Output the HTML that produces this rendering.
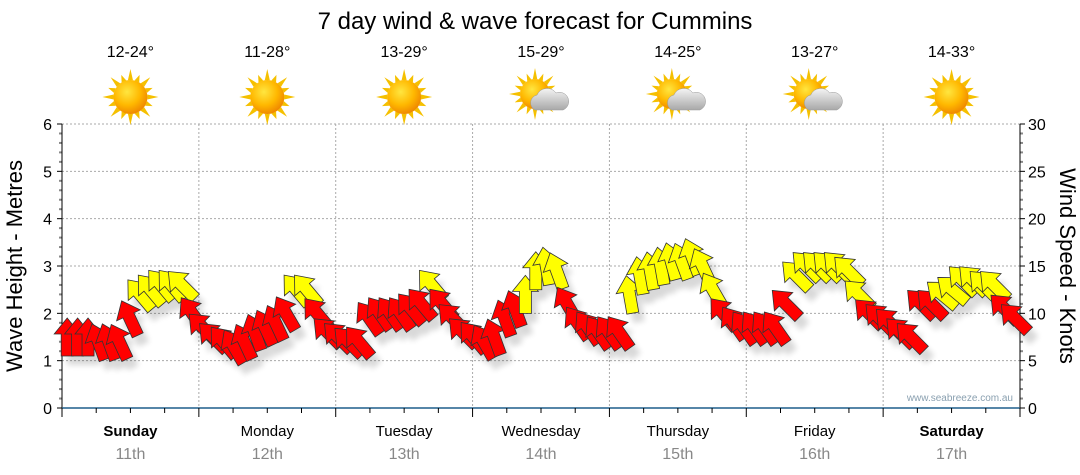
<!DOCTYPE html>
<html><head><meta charset="utf-8"><style>
body{margin:0;background:#fff;}
svg{display:block;font-family:"Liberation Sans",sans-serif;}
</style></head><body>
<svg id="chart" width="1080" height="475" viewBox="0 0 1080 475" xmlns="http://www.w3.org/2000/svg">
<defs>
<radialGradient id="sunG" cx="40%" cy="35%" r="65%"><stop offset="0" stop-color="#ffe640"/><stop offset="0.6" stop-color="#ffb800"/><stop offset="1" stop-color="#f08a00"/></radialGradient>
<linearGradient id="cloudG" x1="0" y1="0" x2="0" y2="1"><stop offset="0" stop-color="#f4f4f4"/><stop offset="1" stop-color="#a8a8a8"/></linearGradient>
<filter id="sh" x="-50%" y="-50%" width="200%" height="200%"><feGaussianBlur stdDeviation="3"/></filter>
</defs>
<text x="535" y="29" font-size="24" text-anchor="middle" fill="#000">7 day wind &amp; wave forecast for Cummins</text>
<g id="grid"></g>
<g id="axes"></g>
<g id="shadows" filter="url(#sh)" opacity="0.15"></g>
<g id="marks"></g>
<g id="icons"></g>
<text transform="translate(22,266) rotate(-90)" font-size="22" text-anchor="middle">Wave Height - Metres</text>
<text transform="translate(1060,266) rotate(90)" font-size="22" text-anchor="middle">Wind Speed - Knots</text>
<text x="1013" y="401" font-size="10" fill="#8aa0b0" text-anchor="end">www.seabreeze.com.au</text>
</svg>
<script>
const days=["Sunday","Monday","Tuesday","Wednesday","Thursday","Friday","Saturday"];
const dates=["11th","12th","13th","14th","15th","16th","17th"];
const temps=["12-24°","11-28°","13-29°","15-29°","14-25°","13-27°","14-33°"];
const cloudy=[false,false,false,true,true,true,false];
const boldDays=[true,false,false,false,false,false,true];
const waveTicks=[0,1,2,3,4,5,6];
const windTicks=[0,5,10,15,20,25,30];
const windSpeed=[
7.5,7.5,7.5,7,7,7,9.5,12,12.5,13,13,13,
10,8.5,7.5,7,6.5,7,8,8.5,9,10,12.5,12.5,
10,8,7.5,7,7,9.5,10,10,10,10.5,11,13,
11,9.5,8,7.5,7,7.5,9.5,10.5,12,14.5,15,14.5,
11,9,8.5,8,8,8,12,14,14.5,15,15.5,15.5,
16,15,12.5,10,9,8.5,8.5,8.5,8.5,11,14,15,
15,15,15,14.5,12,10,9.5,9,8,7.5,11,11,
12,12.5,13.5,13.5,13,13,10.5,9.5];
const windDir=[
0,0,0,-20,-20,-25,-25,-40,-40,-40,-40,-45,
-35,-45,-45,-40,-30,-25,-20,-25,-25,-30,-40,-40,
-40,-45,-45,-45,-40,-35,-35,-35,-35,-40,-40,-40,
-40,-45,-45,-40,-30,-20,-20,-20,0,0,-10,-20,
-30,-35,-35,-35,-35,-35,-10,-10,-10,-10,-15,-20,
-20,-25,-30,-40,-35,-35,-35,-35,-35,-45,-45,-45,
-45,-45,-45,-45,-45,-45,-45,-45,-45,-45,-45,-45,
-50,-50,-45,-45,-45,-45,-45,-45];
const NS="http://www.w3.org/2000/svg";
const X0=62,X1=1020,Y0=408,Y1=124;
const dayW=(X1-X0)/7;
function xDay(d){return X0+d*dayW;}
function xSlot(i){return X0+(i+0.5)*(X1-X0)/windSpeed.length;}
function yWave(m){return Y0-(m/6)*(Y0-Y1);}
function yWind(k){return Y0-(k/30)*(Y0-Y1);}
function el(tag,attrs,parent,txt){const e=document.createElementNS(NS,tag);for(const k in attrs)e.setAttribute(k,attrs[k]);if(txt!==undefined)e.textContent=txt;parent.appendChild(e);return e;}
const grid=document.getElementById('grid'),axes=document.getElementById('axes'),marks=document.getElementById('marks'),shadows=document.getElementById('shadows'),icons=document.getElementById('icons');
waveTicks.forEach(v=>{
 if(v>0){const g=el('line',{x1:X0,x2:X1,y1:yWave(v),y2:yWave(v),stroke:'#aaa','stroke-dasharray':'2,2'},grid);
 
 }
 const t=el('text',{x:52,y:yWave(v)+6,'font-size':16,'text-anchor':'end'},axes,String(v));
 
 
});
windTicks.forEach(v=>{
 const t=el('text',{x:1028,y:yWind(v)+6,'font-size':16,'text-anchor':'start'},axes,String(v));
 
 
});
for(let i=0;i<=30;i++){const y=Y0-i*(Y0-Y1)/30;const major=i%5==0;
 el('line',{x1:X0-(major?5:3),x2:X0,y1:y,y2:y,stroke:major?'#000':'#888','stroke-width':major?1:2},axes);
 el('line',{x1:X1,x2:X1+(major?5:3),y1:y,y2:y,stroke:major?'#000':'#888','stroke-width':major?1:2},axes);}
el('line',{x1:X0,x2:X0,y1:Y1,y2:Y0+8,stroke:'#000'},axes);
el('line',{x1:X1,x2:X1,y1:Y1,y2:Y0+8,stroke:'#000'},axes);
for(let d=1;d<7;d++){const g=el('line',{x1:xDay(d),x2:xDay(d),y1:Y1,y2:Y0,stroke:'#aaa','stroke-dasharray':'2,2'},grid);
 
 }
el('line',{x1:X0,x2:X1,y1:Y0,y2:Y0,stroke:'#1f5f8b','stroke-width':1.5},axes);
for(let q=0;q<=28;q++){const x=X0+q*dayW/4;el('line',{x1:x,x2:x,y1:Y0,y2:Y0+(q%4==0?9:5),stroke:'#000'},axes);}
days.forEach((d,i)=>{const cx=xDay(i)+dayW/2;
 const a=el('text',{x:cx,y:436,'font-size':15,'text-anchor':'middle','font-weight':boldDays[i]?'bold':'normal'},axes,d);
 
 
 const b=el('text',{x:cx,y:459,'font-size':16,'text-anchor':'middle',fill:'#888'},axes,dates[i]);
 
 
 const t=el('text',{x:cx,y:57,'font-size':16,'text-anchor':'middle'},icons,temps[i]);
 
 
 const g=el('g',{transform:`translate(${cx},97)`},icons);
 
 
 const sx=cloudy[i]?-6:0, sy=cloudy[i]?-3:0, r=cloudy[i]?15:17;
 for(let k=0;k<16;k++){const ang=k*Math.PI/8;const L=(k%2?r+7:r+11);
  const p1=[sx+Math.cos(ang-0.15)*r,sy+Math.sin(ang-0.15)*r],p2=[sx+Math.cos(ang)*L,sy+Math.sin(ang)*L],p3=[sx+Math.cos(ang+0.15)*r,sy+Math.sin(ang+0.15)*r];
  el('polygon',{points:`${p1} ${p2} ${p3}`,fill:'#f5c000'},g);}
 el('circle',{cx:sx,cy:sy,r:r,fill:'url(#sunG)'},g);
 if(cloudy[i]){el('path',{d:'M-6,13 a8,8 0 0 1 2,-15 a11,11 0 0 1 19,-2 a8,8 0 0 1 7,17 z',fill:'url(#cloudG)',stroke:'#999','stroke-width':0.5},g);}
});
const arrowPath='M0,-19 L13,-3 L6,-3 L6,19 L-6,19 L-6,-3 L-13,-3 Z';
windSpeed.forEach((v,i)=>{const x=xSlot(i),y=yWind(v);
 el('path',{d:arrowPath,transform:`translate(${x+6},${y+9}) rotate(${windDir[i]})`,fill:'#000'},shadows);
 const a=el('path',{d:arrowPath,transform:`translate(${x},${y}) rotate(${windDir[i]})`,fill:v>=12?'#ffff00':'#ff0000',stroke:'#333','stroke-width':0.8},marks);
 
 
});
</script>
</body></html>
